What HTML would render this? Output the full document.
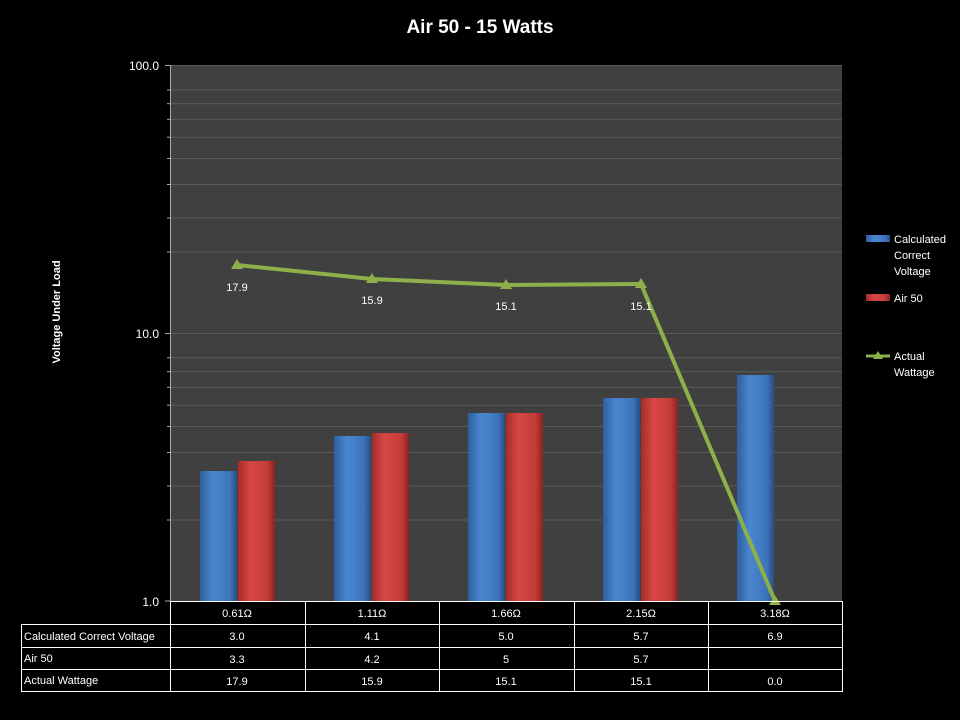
<!DOCTYPE html>
<html><head><style>body{margin:0;background:#000}svg{display:block}text{font-family:"Liberation Sans",sans-serif;fill:#fff}</style></head><body>
<svg width="960" height="720" viewBox="0 0 960 720">
<defs>
<linearGradient id="b" x1="0" x2="1"><stop offset="0" stop-color="#2f5f9e"/><stop offset="0.35" stop-color="#4a86d0"/><stop offset="0.8" stop-color="#3d74bb"/><stop offset="1" stop-color="#284f85"/></linearGradient>
<linearGradient id="r" x1="0" x2="1"><stop offset="0" stop-color="#a52d2a"/><stop offset="0.35" stop-color="#d84744"/><stop offset="0.8" stop-color="#c23b38"/><stop offset="1" stop-color="#8a2322"/></linearGradient>
</defs>
<rect width="960" height="720" fill="#000"/>
<text x="480" y="33" text-anchor="middle" font-size="19" font-weight="bold">Air 50 - 15 Watts</text>
<rect x="170" y="65" width="672" height="536" fill="#404040"/>
<g stroke="#5a5a5a" stroke-width="1">
<line x1="170" x2="842" y1="65.5" y2="65.5"/>
<line x1="170" x2="842" y1="333.5" y2="333.5"/>
<line x1="170" x2="842" y1="90" y2="90"/><line x1="170" x2="842" y1="103.7" y2="103.7"/><line x1="170" x2="842" y1="119.3" y2="119.3"/><line x1="170" x2="842" y1="137.2" y2="137.2"/><line x1="170" x2="842" y1="158.5" y2="158.5"/><line x1="170" x2="842" y1="184.5" y2="184.5"/><line x1="170" x2="842" y1="218" y2="218"/><line x1="170" x2="842" y1="252" y2="252"/>
<line x1="170" x2="842" y1="357.8" y2="357.8"/><line x1="170" x2="842" y1="371.7" y2="371.7"/><line x1="170" x2="842" y1="387.3" y2="387.3"/><line x1="170" x2="842" y1="405.2" y2="405.2"/><line x1="170" x2="842" y1="426.5" y2="426.5"/><line x1="170" x2="842" y1="452.5" y2="452.5"/><line x1="170" x2="842" y1="486" y2="486"/><line x1="170" x2="842" y1="520" y2="520"/>
</g>
<line x1="170.5" x2="170.5" y1="65" y2="601" stroke="#aaa"/>
<g stroke="#aaa"><line x1="165" x2="170" y1="65.5" y2="65.5"/><line x1="165" x2="170" y1="333.5" y2="333.5"/><line x1="165" x2="170" y1="601" y2="601"/>
<line x1="167" x2="170" y1="90" y2="90"/><line x1="167" x2="170" y1="103.7" y2="103.7"/><line x1="167" x2="170" y1="119.3" y2="119.3"/><line x1="167" x2="170" y1="137.2" y2="137.2"/><line x1="167" x2="170" y1="158.5" y2="158.5"/><line x1="167" x2="170" y1="184.5" y2="184.5"/><line x1="167" x2="170" y1="218" y2="218"/><line x1="167" x2="170" y1="252" y2="252"/>
<line x1="167" x2="170" y1="357.8" y2="357.8"/><line x1="167" x2="170" y1="371.7" y2="371.7"/><line x1="167" x2="170" y1="387.3" y2="387.3"/><line x1="167" x2="170" y1="405.2" y2="405.2"/><line x1="167" x2="170" y1="426.5" y2="426.5"/><line x1="167" x2="170" y1="452.5" y2="452.5"/><line x1="167" x2="170" y1="486" y2="486"/><line x1="167" x2="170" y1="520" y2="520"/></g>
<g font-size="12" text-anchor="end"><text x="159" y="70">100.0</text><text x="159" y="338">10.0</text><text x="159" y="606">1.0</text></g>
<text transform="translate(60,312) rotate(-90)" text-anchor="middle" font-size="11" font-weight="bold">Voltage Under Load</text>
<g>
<rect x="200" y="471" width="37" height="130" fill="url(#b)"/><rect x="238" y="461" width="37" height="140" fill="url(#r)"/>
<rect x="334" y="436" width="37" height="165" fill="url(#b)"/><rect x="372" y="433" width="37" height="168" fill="url(#r)"/>
<rect x="468" y="413" width="37" height="188" fill="url(#b)"/><rect x="506" y="413" width="37" height="188" fill="url(#r)"/>
<rect x="603" y="398" width="37" height="203" fill="url(#b)"/><rect x="641" y="398" width="37" height="203" fill="url(#r)"/>
<rect x="737" y="375" width="37" height="226" fill="url(#b)"/>
</g>
<polyline points="237,265 372,279 506,285 641,284 775,601" fill="none" stroke="#8db04a" stroke-width="4" stroke-linejoin="round"/>
<g fill="#8db04a"><path d="M237,259l6,10h-12z"/><path d="M372,273l6,10h-12z"/><path d="M506,279l6,10h-12z"/><path d="M641,278l6,10h-12z"/><path d="M775,595l6,10h-12z"/></g>
<g font-size="11" text-anchor="middle"><text x="237" y="291">17.9</text><text x="372" y="304">15.9</text><text x="506" y="310">15.1</text><text x="641" y="310">15.1</text></g>
<g stroke="#fff" stroke-width="1" fill="none">
<rect x="170.5" y="601.5" width="672" height="90"/>
<line x1="21.5" x2="842" y1="624.5" y2="624.5"/><line x1="21.5" x2="842" y1="647.5" y2="647.5"/><line x1="21.5" x2="842" y1="669.5" y2="669.5"/>
<rect x="21.5" y="624.5" width="149" height="67"/>
<line x1="305.5" x2="305.5" y1="601" y2="692"/><line x1="439.5" x2="439.5" y1="601" y2="692"/><line x1="574.5" x2="574.5" y1="601" y2="692"/><line x1="708.5" x2="708.5" y1="601" y2="692"/>
</g>
<g font-size="11" text-anchor="middle">
<text x="237" y="617">0.61Ω</text><text x="372" y="617">1.11Ω</text><text x="506" y="617">1.66Ω</text><text x="641" y="617">2.15Ω</text><text x="775" y="617">3.18Ω</text>
<text x="237" y="640">3.0</text><text x="372" y="640">4.1</text><text x="506" y="640">5.0</text><text x="641" y="640">5.7</text><text x="775" y="640">6.9</text>
<text x="237" y="663">3.3</text><text x="372" y="663">4.2</text><text x="506" y="663">5</text><text x="641" y="663">5.7</text>
<text x="237" y="685">17.9</text><text x="372" y="685">15.9</text><text x="506" y="685">15.1</text><text x="641" y="685">15.1</text><text x="775" y="685">0.0</text>
</g>
<g font-size="11"><text x="24" y="640">Calculated Correct Voltage</text><text x="24" y="662">Air 50</text><text x="24" y="684">Actual Wattage</text></g>
<rect x="866" y="235" width="24" height="7" fill="url(#b)"/>
<rect x="866" y="294" width="24" height="7" fill="url(#r)"/>
<line x1="866" x2="890" y1="356" y2="356" stroke="#8db04a" stroke-width="3"/><path d="M878,351l5,8h-10z" fill="#8db04a"/>
<g font-size="11"><text x="894" y="243">Calculated</text><text x="894" y="259">Correct</text><text x="894" y="275">Voltage</text><text x="894" y="302">Air 50</text><text x="894" y="360">Actual</text><text x="894" y="376">Wattage</text></g>
</svg>
</body></html>
